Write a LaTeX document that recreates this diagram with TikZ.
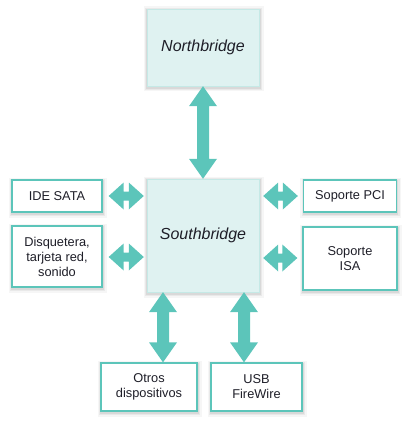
\documentclass[tikz,border=0pt]{standalone}
\usepackage{fontspec}
\setmainfont{Liberation Sans}
\usetikzlibrary{calc,shadows}
\definecolor{teal1}{HTML}{5CC5BA}
\definecolor{tealbg}{HTML}{DFF2F1}
\definecolor{txt}{HTML}{1E1E28}
\tikzset{
  softshadow/.style={
    general shadow={draw=black,line width=8pt,opacity=0.035,shadow xshift=0.5pt,shadow yshift=-1.5pt},
    general shadow={draw=black,line width=5pt,opacity=0.05,shadow xshift=0.5pt,shadow yshift=-1.5pt},
    general shadow={draw=black,line width=2.5pt,opacity=0.07,shadow xshift=0.5pt,shadow yshift=-1.5pt}},
  bigbox/.style={softshadow,fill=tealbg,draw=tealbg!80!teal1,line width=0.4pt,inner sep=0pt,
    font=\fontsize{16}{19}\selectfont\itshape,text=txt},
  smallbox/.style={softshadow,fill=white,draw=teal1,line width=1.3pt,inner sep=0pt,align=center,
    font=\fontsize{12.8}{15}\selectfont,text=txt},
  fatarrow/.style={fill=teal1},
}
% vertical double arrow from #1 (top) to #2 (bottom)
\newcommand{\myvarrow}[2]{%
  \fill[fatarrow] (#1) -- ($(#1)+(14,20)$) -- ($(#1)+(6,20)$) -- ($(#2)+(6,-20)$) -- ($(#2)+(14,-20)$)
    -- (#2) -- ($(#2)+(-14,-20)$) -- ($(#2)+(-6,-20)$) -- ($(#1)+(-6,20)$) -- ($(#1)+(-14,20)$) -- cycle;}
% horizontal double arrow from #1 (left) to #2 (right)
\newcommand{\myharrow}[2]{%
  \fill[fatarrow] (#1) -- ($(#1)+(15,-13.5)$) -- ($(#1)+(15,-4.5)$) -- ($(#2)+(-15,-4.5)$) -- ($(#2)+(-15,-13.5)$)
    -- (#2) -- ($(#2)+(-15,13.5)$) -- ($(#2)+(-15,4.5)$) -- ($(#1)+(15,4.5)$) -- ($(#1)+(15,13.5)$) -- cycle;}
\begin{document}
\begin{tikzpicture}[x=1pt,y=-1pt]
\useasboundingbox (0,0) rectangle (403,422);
\node[bigbox,minimum width=112pt,minimum height=77pt] (nb) at (203,47.5) {Northbridge};
\node[bigbox,minimum width=112pt,minimum height=113pt] (sb) at (203,235.5) {Southbridge};
\node[smallbox,minimum width=90pt,minimum height=32pt] (ide) at (57,196) {IDE SATA};
\node[smallbox,minimum width=90pt,minimum height=61pt] (disq) at (57,256.5) {Disquetera,\\tarjeta red,\\sonido};
\node[smallbox,minimum width=93pt,minimum height=32pt] (pci) at (350,196) {Soporte PCI};
\node[smallbox,minimum width=94pt,minimum height=63pt] (isa) at (350,258.5) {Soporte\\ISA};
\node[smallbox,minimum width=96pt,minimum height=48pt] (otros) at (149,387) {Otros\\dispositivos};
\node[smallbox,minimum width=91pt,minimum height=48pt] (usb) at (256.5,387) {USB\\FireWire};
\coordinate (c1) at (163,0);
\coordinate (c2) at (244,0);
\coordinate (r2) at (0,258);
\coordinate (l2) at (0,257);
\coordinate (a1) at ($(ide.east)+(6,0)$);
\coordinate (a2) at ($(ide.east -| sb.west)+(-3,0)$);
\coordinate (a3) at ($(disq.east |- l2)+(6,0)$);
\coordinate (a4) at ($(sb.west |- l2)+(-3,0)$);
\coordinate (a5) at ($(sb.east |- pci.west)+(4,0)$);
\coordinate (a6) at ($(pci.west)+(-5,0)$);
\coordinate (a7) at ($(sb.east |- r2)+(4,0)$);
\coordinate (a8) at ($(isa.west |- r2)+(-5,0)$);
\coordinate (n1) at (nb.south);
\coordinate (n2) at (sb.north);
\coordinate (b1) at (sb.south -| c1);
\coordinate (b2) at (otros.north -| c1);
\coordinate (b3) at (sb.south -| c2);
\coordinate (b4) at (usb.north -| c2);
\myvarrow{n1}{n2}
\myharrow{a1}{a2}
\myharrow{a3}{a4}
\myharrow{a5}{a6}
\myharrow{a7}{a8}
\myvarrow{b1}{b2}
\myvarrow{b3}{b4}
\end{tikzpicture}
\end{document}
